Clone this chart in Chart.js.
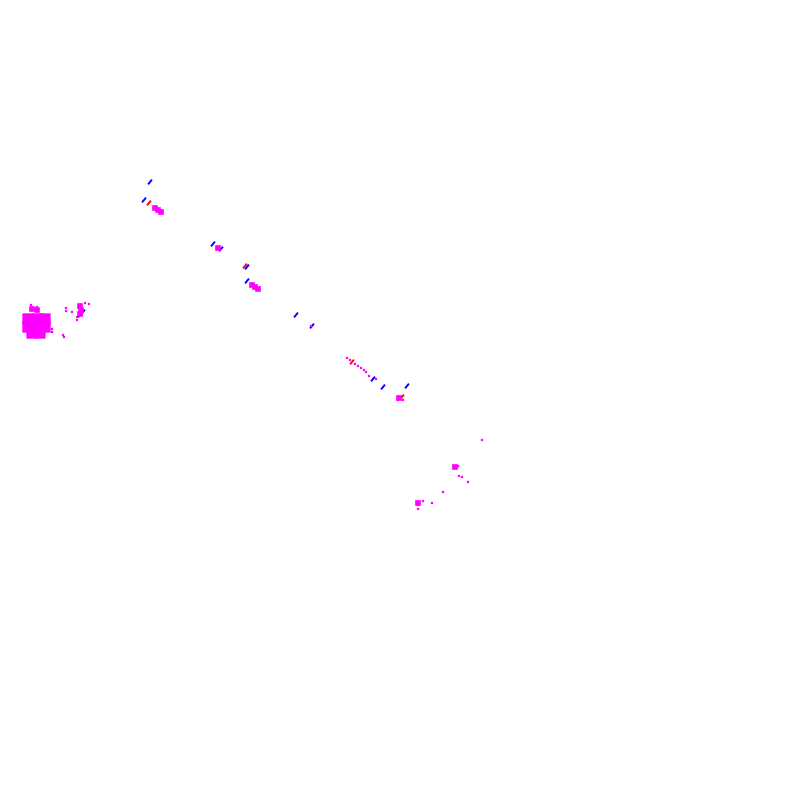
<!DOCTYPE html>
<html>
<head>
<meta charset="utf-8">
<script src="https://cdn.jsdelivr.net/npm/chart.js@4/dist/chart.umd.min.js"></script>
<style>
html,body{margin:0;padding:0;background:#fff;}
#wrap{width:800px;height:800px;}
</style>
</head>
<body>
<div id="wrap"><canvas id="c" width="800" height="800"></canvas></div>
<script>
// Values (x, y in the chart's own 0-800 units, y downward)
const magentaLargeX = [28, 37, 45, 28, 37, 45, 32, 40];
const magentaLargeY = [319, 319, 319, 327, 327, 327, 333, 333];
const magentaMediumX = [155, 158, 161, 218, 252, 255, 258, 80, 81, 80, 399, 455, 418, 32, 37];
const magentaMediumY = [208, 210, 212, 248, 285, 287, 289, 306, 310, 314, 398, 467, 503, 309, 310];
const magentaSmallX = [31, 37, 52, 52, 63, 64, 66, 66, 72, 85, 89, 77, 77, 311, 347, 350, 355, 358, 361, 364, 366, 369, 376, 403, 398, 482, 458, 459, 462, 468, 443, 423, 432, 417, 418, 418, 259];
const magentaSmallY = [305, 307, 329, 332, 335, 337, 308, 311, 312, 303, 304, 317, 320, 326, 358, 360, 364, 366, 368, 370, 372, 376, 379, 400, 400, 440, 466, 476, 477, 482, 492, 501, 503, 502, 505, 509, 289];
const blueX = [150, 144, 213, 221, 247, 247, 296, 83, 80, 373, 383, 407, 312];
const blueY = [182, 200, 244, 249, 267, 281, 315, 312, 315, 379, 387, 386, 326];
const redX = [149, 245, 352, 402];
const redY = [203, 266, 362, 397];

function pts(xs, ys) { return xs.map((x, i) => ({ x: x, y: ys[i] })); }

new Chart(document.getElementById('c'), {
  type: 'scatter',
  data: {
    datasets: [
      { label: 'magenta large', data: pts(magentaLargeX, magentaLargeY), pointStyle: 'rect', pointRadius: 8, backgroundColor: '#ff00ff', borderWidth: 0 },
      { label: 'magenta medium', data: pts(magentaMediumX, magentaMediumY), pointStyle: 'rect', pointRadius: 4, backgroundColor: '#ff00ff', borderWidth: 0 },
      { label: 'magenta small', data: pts(magentaSmallX, magentaSmallY), pointStyle: 'rect', pointRadius: 1.6, backgroundColor: '#ff00ff', borderWidth: 0 },
      { label: 'blue', data: pts(blueX, blueY), pointStyle: 'line', pointRadius: 3, rotation: -50, borderColor: '#0000ff', borderWidth: 2 },
      { label: 'red', data: pts(redX, redY), pointStyle: 'line', pointRadius: 3, rotation: -50, borderColor: '#ff0000', borderWidth: 2 }
    ]
  },
  options: {
    responsive: false,
    animation: false,
    layout: { padding: 0, autoPadding: false },
    plugins: { legend: { display: false }, tooltip: { enabled: false } },
    scales: {
      x: { type: 'linear', min: 0, max: 800, display: false },
      y: { type: 'linear', min: 0, max: 800, reverse: true, display: false }
    }
  }
});
</script>
</body>
</html>
